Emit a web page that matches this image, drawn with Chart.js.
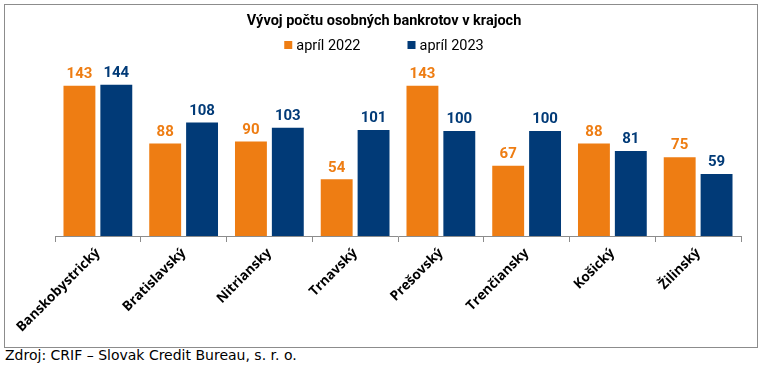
<!DOCTYPE html>
<html>
<head>
<meta charset="utf-8">
<script src="https://cdn.jsdelivr.net/npm/chart.js@4.4.4/dist/chart.umd.min.js"></script>
<style>
  html, body { margin: 0; padding: 0; background: #fff; }
  #frame { position: absolute; left: 4px; top: 4px; width: 752px; height: 342px; border: 1px solid #8c8c8c; }
  #wrap { position: absolute; left: 0; top: 0; width: 752px; height: 342px; }
  #source { position: absolute; left: 5px; top: 347px; font: 14px "DejaVu Sans", Verdana, sans-serif; color: #000; }
</style>
</head>
<body>
<div id="frame"><div id="wrap"><canvas id="c"></canvas></div></div>
<div id="source">Zdroj: CRIF – Slovak Credit Bureau, s. r. o.</div>
<script>
// Osobné bankroty podľa krajov, apríl 2022 vs. apríl 2023
const regions = ['Banskobystrický', 'Bratislavský', 'Nitriansky', 'Trnavský', 'Prešovský', 'Trenčiansky', 'Košický', 'Žilinský'];
const april2022 = [143, 88, 90, 54, 143, 67, 88, 75];
const april2023 = [144, 108, 103, 101, 100, 100, 81, 59];

const ORANGE = '#EE7D13';
const NAVY = '#013A77';

// value labels above each bar, in the bar's own colour
const valueLabels = {
    id: 'valueLabels',
    afterDatasetsDraw(chart) {
        const { ctx } = chart;
        ctx.save();
        ctx.font = 'bold 15px Roboto, sans-serif';
        ctx.textAlign = 'center';
        ctx.textBaseline = 'bottom';
        chart.data.datasets.forEach((ds, i) => {
            const meta = chart.getDatasetMeta(i);
            ctx.fillStyle = ds.backgroundColor;
            meta.data.forEach((bar, j) => {
                ctx.fillText(String(ds.data[j]), bar.x, bar.y - 4);
            });
        });
        ctx.restore();
    },
};

// one-row legend under the title, with the wide gap between entries the built-in one can't do
// (space for it is reserved by the title's bottom padding)
const legendRow = {
    id: 'legendRow',
    afterDraw(chart) {
        const { ctx } = chart;
        const tb = chart.titleBlock;
        const cx = (tb.left + tb.right) / 2;
        const cy = tb.top + 36;
        const box = 8, gap = 4, spacing = 47;
        ctx.save();
        ctx.font = '14.5px Roboto, sans-serif';
        ctx.textBaseline = 'middle';
        const items = chart.data.datasets.map((ds) => ({ text: ds.label, color: ds.backgroundColor, w: ctx.measureText(ds.label).width }));
        const total = items.reduce((s, it) => s + box + gap + it.w, 0) + spacing * (items.length - 1);
        let x = cx - total / 2;
        for (const it of items) {
            ctx.fillStyle = it.color;
            ctx.fillRect(x, cy - box / 2, box, box);
            ctx.fillStyle = '#000';
            ctx.fillText(it.text, x + box + gap, cy + 1);
            x += box + gap + it.w + spacing;
        }
        ctx.restore();
    },
};

new Chart(document.getElementById('c'), {
    type: 'bar',
    data: {
        labels: regions,
        datasets: [
            { label: 'apríl 2022', data: april2022, backgroundColor: ORANGE, borderWidth: 0 },
            { label: 'apríl 2023', data: april2023, backgroundColor: NAVY, borderWidth: 0 },
        ],
    },
    options: {
        responsive: true,
        maintainAspectRatio: false,
        animation: false,
        categoryPercentage: 0.86,
        barPercentage: 0.865,
        layout: { padding: { left: 22, right: 16, top: 4, bottom: 0 } },
        plugins: {
            tooltip: { enabled: false },
            legend: { display: false },
            title: {
                display: true,
                text: 'Vývoj počtu osobných bankrotov v krajoch',
                color: '#000',
                font: { family: 'Roboto', size: 14.5, weight: 'bold' },
                padding: { top: 4, bottom: 36 },
            },
        },
        scales: {
            x: {
                grid: { display: true, drawOnChartArea: false, drawTicks: true, tickLength: 6, color: '#8c8c8c' },
                border: { color: '#8c8c8c' },
                ticks: {
                    color: '#000',
                    font: { family: 'Open Sans', size: 13.5, weight: 'bold' },
                    minRotation: 45,
                    maxRotation: 45,
                    padding: 3,
                },
                afterFit(scale) { scale.height = 111; },
            },
            y: {
                display: true,
                min: 0,
                max: 161.5,
                grid: { display: false },
                border: { display: false },
                ticks: { display: false },
                afterFit(scale) { scale.width = 28; },
            },
        },
    },
    plugins: [valueLabels, legendRow],
});
</script>
</body>
</html>
